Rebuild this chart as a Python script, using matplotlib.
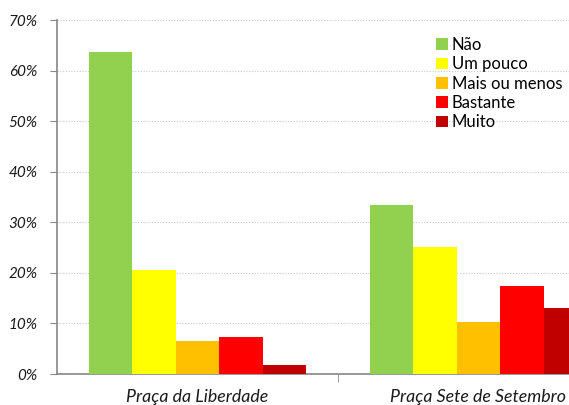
import numpy as np
import matplotlib
matplotlib.use("Agg")
import matplotlib.pyplot as plt
from matplotlib.ticker import FuncFormatter

plt.rcParams['font.family'] = ['Lato', 'DejaVu Sans']

# data
places = ['Praça da Liberdade', 'Praça Sete de Setembro']
levels = ['Não', 'Um pouco', 'Mais ou menos', 'Bastante', 'Muito']
values = {
    'Não':           [63.6, 33.4],
    'Um pouco':      [20.6, 25.1],
    'Mais ou menos': [6.5, 10.3],
    'Bastante':      [7.3, 17.5],
    'Muito':         [1.7, 13.1],
}
colors = ['#92D050', '#FFFF00', '#FFC000', '#FF0000', '#C00000']
y_ticks = [0, 10, 20, 30, 40, 50, 60, 70]

fig = plt.figure(figsize=(5.69, 4.05), dpi=100)
# the axes runs past the right edge of the figure, as in the original
ax = fig.add_axes([57/569, 31/405, 562/569, 354/405])

ind = np.arange(len(places))
width = 0.1545
for i, (lvl, col) in enumerate(zip(levels, colors)):
    ax.bar(ind + (i - 2) * width, values[lvl], width, color=col, label=lvl,
           zorder=3, linewidth=0)

ax.set_xlim(-0.5, 1.5)
ax.set_ylim(0, 70)
ax.set_yticks(y_ticks)
ax.yaxis.set_major_formatter(FuncFormatter(lambda v, p: f'{int(v)}%'))
ax.yaxis.grid(True, linestyle=(0, (1, 1.5)), color='#C8C8C8', linewidth=0.8, zorder=0)

ax.set_xticks([0.5], minor=True)
ax.set_xticks(ind)
ax.set_xticklabels(places, fontstyle='italic', fontsize=12.8, color='#1a1a1a')
ax.tick_params(axis='x', which='major', length=0, pad=10.5)
ax.tick_params(axis='x', which='minor', length=6, color='#868686')
ax.tick_params(axis='y', length=5, color='#868686', labelsize=11, labelcolor='#1a1a1a', pad=9)
for lab in ax.get_yticklabels():
    lab.set_fontstyle('italic')

for s in ['top', 'right']:
    ax.spines[s].set_visible(False)
for s in ['left', 'bottom']:
    ax.spines[s].set_color('#868686')
    ax.spines[s].set_linewidth(1.2)

leg = ax.legend(loc='upper left', bbox_to_anchor=(436/569, 1 - 37/405),
                bbox_transform=fig.transFigure, frameon=False, fontsize=12,
                handlelength=0.7, handleheight=0.7, handletextpad=0.25,
                labelspacing=0.2, borderpad=0, borderaxespad=0)

fig.savefig('out.png', dpi=100)
